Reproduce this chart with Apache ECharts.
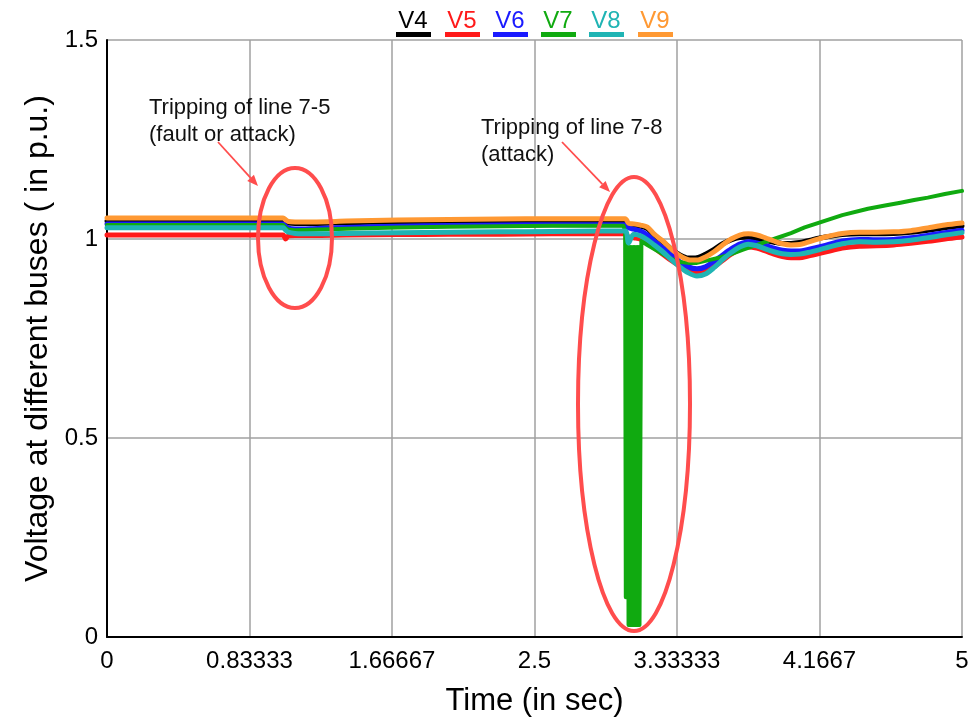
<!DOCTYPE html>
<html>
<head>
<meta charset="utf-8">
<script src="https://cdn.jsdelivr.net/npm/echarts@6/dist/echarts.min.js"></script>
<style>
html,body{margin:0;padding:0;background:#fff;}
#chart{width:975px;height:724px;}
</style>
</head>
<body>
<div id="chart"></div>
<script>
// ---------- data ----------
const xTickLabels = ['0', '0.83333', '1.66667', '2.5', '3.33333', '4.1667', '5'];
const seriesNames = ['V4', 'V5', 'V6', 'V7', 'V8', 'V9'];

const time = [0, 0.5, 1.0, 1.03, 1.045, 1.06, 1.1, 1.2, 1.4, 1.7,
  2.0, 2.3, 2.6, 2.9, 3.03, 3.05, 3.08, 3.12, 3.16, 3.2,
  3.25, 3.3, 3.35, 3.4, 3.45, 3.5, 3.55, 3.6, 3.65, 3.7,
  3.75, 3.8, 3.85, 3.9, 3.95, 4.0, 4.05, 4.1, 4.2, 4.3,
  4.4, 4.5, 4.6, 4.7, 4.8, 4.9, 5.0];

const v4 = [1.045, 1.045, 1.045, 1.045, 1.042, 1.040, 1.039, 1.039, 1.041, 1.043,
  1.044, 1.045, 1.046, 1.046, 1.046, 1.037, 1.035, 1.032, 1.026, 1.010,
  0.993, 0.975, 0.960, 0.952, 0.953, 0.962, 0.974, 0.988, 0.998, 1.004,
  1.005, 1.001, 0.996, 0.992, 0.989, 0.989, 0.991, 0.996, 1.005, 1.011,
  1.013, 1.013, 1.014, 1.017, 1.022, 1.028, 1.033];

const v5 = [1.010, 1.010, 1.010, 1.010, 1.000, 1.008, 1.009, 1.009, 1.010, 1.011,
  1.012, 1.012, 1.013, 1.013, 1.013, 1.005, 1.003, 1.000, 0.992, 0.978,
  0.962, 0.946, 0.932, 0.920, 0.915, 0.918, 0.930, 0.946, 0.962, 0.974,
  0.980, 0.977, 0.970, 0.962, 0.956, 0.953, 0.953, 0.957, 0.967, 0.977,
  0.982, 0.983, 0.985, 0.989, 0.994, 1.000, 1.005];

const v6 = [1.038, 1.038, 1.038, 1.038, 1.032, 1.027, 1.025, 1.026, 1.029, 1.032,
  1.034, 1.035, 1.036, 1.036, 1.036, 1.028, 1.025, 1.020, 1.010, 0.995,
  0.978, 0.960, 0.943, 0.930, 0.925, 0.930, 0.944, 0.960, 0.975, 0.987,
  0.993, 0.990, 0.984, 0.977, 0.972, 0.970, 0.970, 0.974, 0.984, 0.995,
  0.999, 0.998, 0.999, 1.003, 1.009, 1.016, 1.022];

const v8 = [1.028, 1.028, 1.028, 1.028, 1.022, 1.017, 1.014, 1.013, 1.014, 1.016,
  1.017, 1.018, 1.019, 1.020, 1.020, 0.990, 1.012, 1.008, 0.998, 0.985,
  0.968, 0.948, 0.930, 0.915, 0.907, 0.912, 0.928, 0.948, 0.966, 0.980,
  0.987, 0.983, 0.975, 0.968, 0.963, 0.961, 0.962, 0.966, 0.977, 0.988,
  0.993, 0.992, 0.993, 0.997, 1.003, 1.010, 1.016];

const v9 = [1.053, 1.053, 1.053, 1.053, 1.048, 1.044, 1.043, 1.043, 1.045, 1.048,
  1.049, 1.050, 1.051, 1.051, 1.051, 1.040, 1.038, 1.035, 1.030, 1.012,
  0.995, 0.975, 0.958, 0.948, 0.947, 0.955, 0.968, 0.985, 1.000, 1.010,
  1.013, 1.010, 1.003, 0.995, 0.988, 0.985, 0.986, 0.992, 1.005, 1.014,
  1.017, 1.017, 1.018, 1.021, 1.028, 1.035, 1.040];

// V7 has its own (denser) time base because of the oscillation during the attack
const v7Time = [0, 0.5, 1.0, 1.03, 1.045, 1.06, 1.1, 1.2, 1.4, 1.7,
  2.0, 2.3, 2.6, 2.9, 3.02,
  3.030, 3.034, 3.038, 3.042, 3.046, 3.050, 3.054, 3.058, 3.062, 3.066, 3.070,
  3.074, 3.078, 3.082, 3.086, 3.090, 3.094, 3.098, 3.102, 3.106, 3.110, 3.114,
  3.125, 3.16, 3.2, 3.25, 3.3, 3.35, 3.4, 3.45, 3.5, 3.58, 3.65, 3.72,
  3.8, 3.9, 4.0, 4.08, 4.17, 4.3, 4.45, 4.55, 4.64, 4.72, 4.8, 4.9, 5.0];

const v7 = [1.035, 1.035, 1.035, 1.035, 1.028, 1.024, 1.022, 1.023, 1.026, 1.029,
  1.031, 1.032, 1.033, 1.033, 1.033,
  1.020, 0.100, 1.000, 0.100, 0.980, 0.030, 0.980, 0.030, 0.980, 0.030, 0.980,
  0.030, 0.980, 0.030, 0.980, 0.030, 0.980, 0.030, 0.980, 0.030, 0.980, 0.030,
  0.995, 0.985, 0.975, 0.962, 0.950, 0.942, 0.940, 0.940, 0.945, 0.953, 0.962, 0.973,
  0.985, 1.000, 1.015, 1.029, 1.042, 1.060, 1.076, 1.084, 1.091, 1.098, 1.104, 1.113, 1.121];

const colors = {V4: '#000000', V5: '#ff1a1a', V6: '#1a1aff', V7: '#10aa10', V8: '#1fb4b4', V9: '#ff9933'};

// ---------- build ----------
function zip(t, v) { return t.map((x, i) => [x, v[i]]); }
const seriesData = {
  V4: zip(time, v4), V5: zip(time, v5), V6: zip(time, v6),
  V7: zip(v7Time, v7), V8: zip(time, v8), V9: zip(time, v9)
};

const FONT = '"Liberation Sans", Arial, Helvetica, sans-serif';
const annColor = '#ff4d4d';

function arrow(x1, y1, x2, y2) {
  const dx = x2 - x1, dy = y2 - y1, L = Math.hypot(dx, dy);
  const ux = dx / L, uy = dy / L, px = -uy, py = ux;
  const h = 11, w = 4.5;
  const bx = x2 - ux * h, by = y2 - uy * h;
  return [
    {type: 'line', shape: {x1: x1, y1: y1, x2: bx, y2: by}, style: {stroke: annColor, lineWidth: 1.8}, z: 100},
    {type: 'polygon', shape: {points: [[x2, y2], [bx + px * w, by + py * w], [bx - px * w, by - py * w]]}, style: {fill: annColor}, z: 100}
  ];
}

const legendX = [413, 462, 510, 558, 606, 655];
const legendGraphics = [];
seriesNames.forEach((n, i) => {
  legendGraphics.push({type: 'text', x: legendX[i], y: 21, style: {text: n, fill: colors[n], font: '24px ' + FONT, textAlign: 'center', textVerticalAlign: 'middle'}, z: 100});
  legendGraphics.push({type: 'rect', shape: {x: legendX[i] - 17, y: 32, width: 35, height: 5}, style: {fill: colors[n]}, z: 100});
});

const chart = echarts.init(document.getElementById('chart'), null, {renderer: 'canvas'});
const option = {
  animation: false,
  backgroundColor: '#ffffff',
  grid: {left: 107, right: 13, top: 40, bottom: 87},
  xAxis: {
    type: 'value', min: 0, max: 5, interval: 5 / 6,
    name: 'Time (in sec)', nameLocation: 'middle', nameGap: 49,
    nameTextStyle: {fontSize: 31, fontFamily: FONT, color: '#000'},
    axisLine: {show: true, onZero: false, lineStyle: {color: '#000', width: 2}},
    axisTick: {show: false},
    axisLabel: {fontSize: 24, fontFamily: FONT, color: '#000', margin: 12,
      formatter: v => xTickLabels[Math.round(v / (5 / 6))]},
    splitLine: {show: true, lineStyle: {color: '#a0a0a0', width: 1.5}}
  },
  yAxis: {
    type: 'value', min: 0, max: 1.5, interval: 0.5,
    name: 'Voltage at different buses ( in p.u.)', nameLocation: 'middle', nameGap: 53,
    nameTextStyle: {fontSize: 32, fontFamily: FONT, color: '#000'},
    axisLine: {show: true, onZero: false, lineStyle: {color: '#000', width: 2}},
    axisTick: {show: false},
    axisLabel: {fontSize: 24, fontFamily: FONT, color: '#000', margin: 9},
    splitLine: {show: true, lineStyle: {color: '#a0a0a0', width: 1.5}}
  },
  series: seriesNames.map((n, i) => ({
    type: 'line', name: n, data: seriesData[n], showSymbol: false,
    smooth: n === 'V7' ? false : 0.3,
    lineStyle: {color: colors[n], width: n === 'V7' ? 4 : 5, join: 'round', cap: 'round'},
    itemStyle: {color: colors[n]}, z: 2 + i
  })),
  graphic: [
    ...legendGraphics,
    {type: 'ellipse', shape: {cx: 295, cy: 238, rx: 37, ry: 70}, style: {fill: 'none', stroke: annColor, lineWidth: 4}, z: 100},
    {type: 'ellipse', shape: {cx: 634, cy: 404, rx: 56, ry: 227}, style: {fill: 'none', stroke: annColor, lineWidth: 4}, z: 100},
    ...arrow(218, 142, 258, 186),
    ...arrow(562, 142, 610, 192),
    {type: 'text', x: 149, y: 94, style: {text: 'Tripping of line 7-5\n(fault or attack)', fill: '#111', font: '22px ' + FONT, lineHeight: 27}, z: 100},
    {type: 'text', x: 481, y: 114, style: {text: 'Tripping of line 7-8\n(attack)', fill: '#111', font: '22px ' + FONT, lineHeight: 27}, z: 100}
  ]
};
chart.setOption(option);
</script>
</body>
</html>
